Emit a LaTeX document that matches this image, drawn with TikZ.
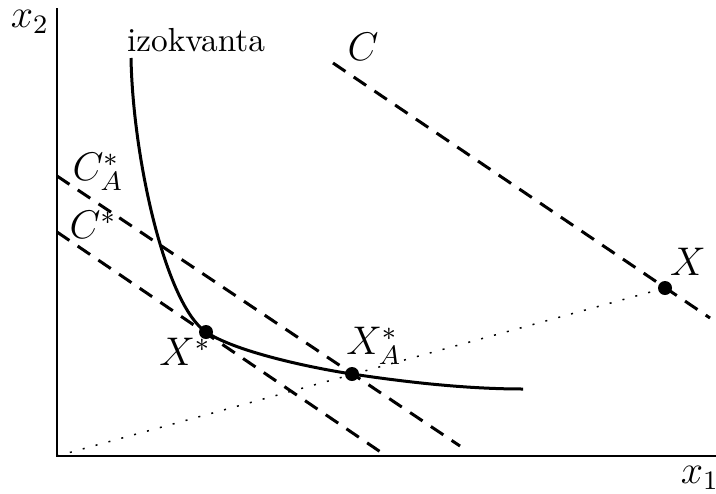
\documentclass[tikz,border=0pt]{standalone}
\usepackage{tikz}

\tikzset{
  axis/.style    = {line width=0.6pt},
  budget/.style  = {line width=0.9pt, dash pattern=on 4.5pt off 3pt},
  ray/.style     = {line width=0.45pt, dash pattern=on 0.6pt off 3.4pt},
  point/.style   = {circle, fill=black, inner sep=0pt, minimum size=4.2pt},
  lbl/.style     = {inner sep=0pt, font=\large}
}

\begin{document}
\begin{tikzpicture}[x=0.3pt, y=-0.3pt]
  \useasboundingbox (0,0) rectangle (716,493);

  % axes
  \coordinate (O)   at (57,456);
  \coordinate (top) at (57,8);
  \coordinate (rgt) at (716,456);
  \draw[axis] (top) -- (O) -- (rgt);
  \node[lbl] (x2) at (30,22)  {$x_2$};
  \node[lbl] (x1) at (700,478) {$x_1$};

  % points
  \node[point] (Xs) at (206,332) {};
  \node[point] (XA) at (352,374) {};
  \node[point] (X)  at (665,288) {};

  % ray through the origin
  \draw[ray] (O) -- (X.center);

  % budget lines
  \coordinate (C1) at (333,63);
  \coordinate (C2) at (710,318);
  \coordinate (CA1) at (57,176);
  \coordinate (CA2) at (460,446);
  \coordinate (Cs1) at (57,232);
  \coordinate (Cs2) at (385,455);
  \draw[budget] (C1) -- (C2);
  \draw[budget] (CA1) -- (CA2);
  \draw[budget] (Cs1) -- (Cs2);

  % isoquant
  \coordinate (iz1) at (131,58);
  \coordinate (iz2) at (523,389);
  \draw[line width=0.9pt] (iz1) .. controls (133,160) and (166,305) .. (Xs.center)
    .. controls (236,352) and (312,368) .. (XA.center)
    .. controls (412,383) and (470,389) .. (iz2);

  % labels
  \node[lbl, font=\normalsize] (izl) at (196,40)  {izokvanta};
  \node[lbl] (Cl)  at (363,47)  {$C$};
  \node[lbl] (CAl) at (98,172)  {$C^*_A$};
  \node[lbl] (Csl) at (93,225)  {$C^*$};
  \node[lbl] (Xl)  at (688,262) {$X$};
  \node[lbl] (Xsl) at (185,352) {$X^*$};
  \node[lbl] (XAl) at (374,346) {$X^*_A$};
\end{tikzpicture}
\end{document}
